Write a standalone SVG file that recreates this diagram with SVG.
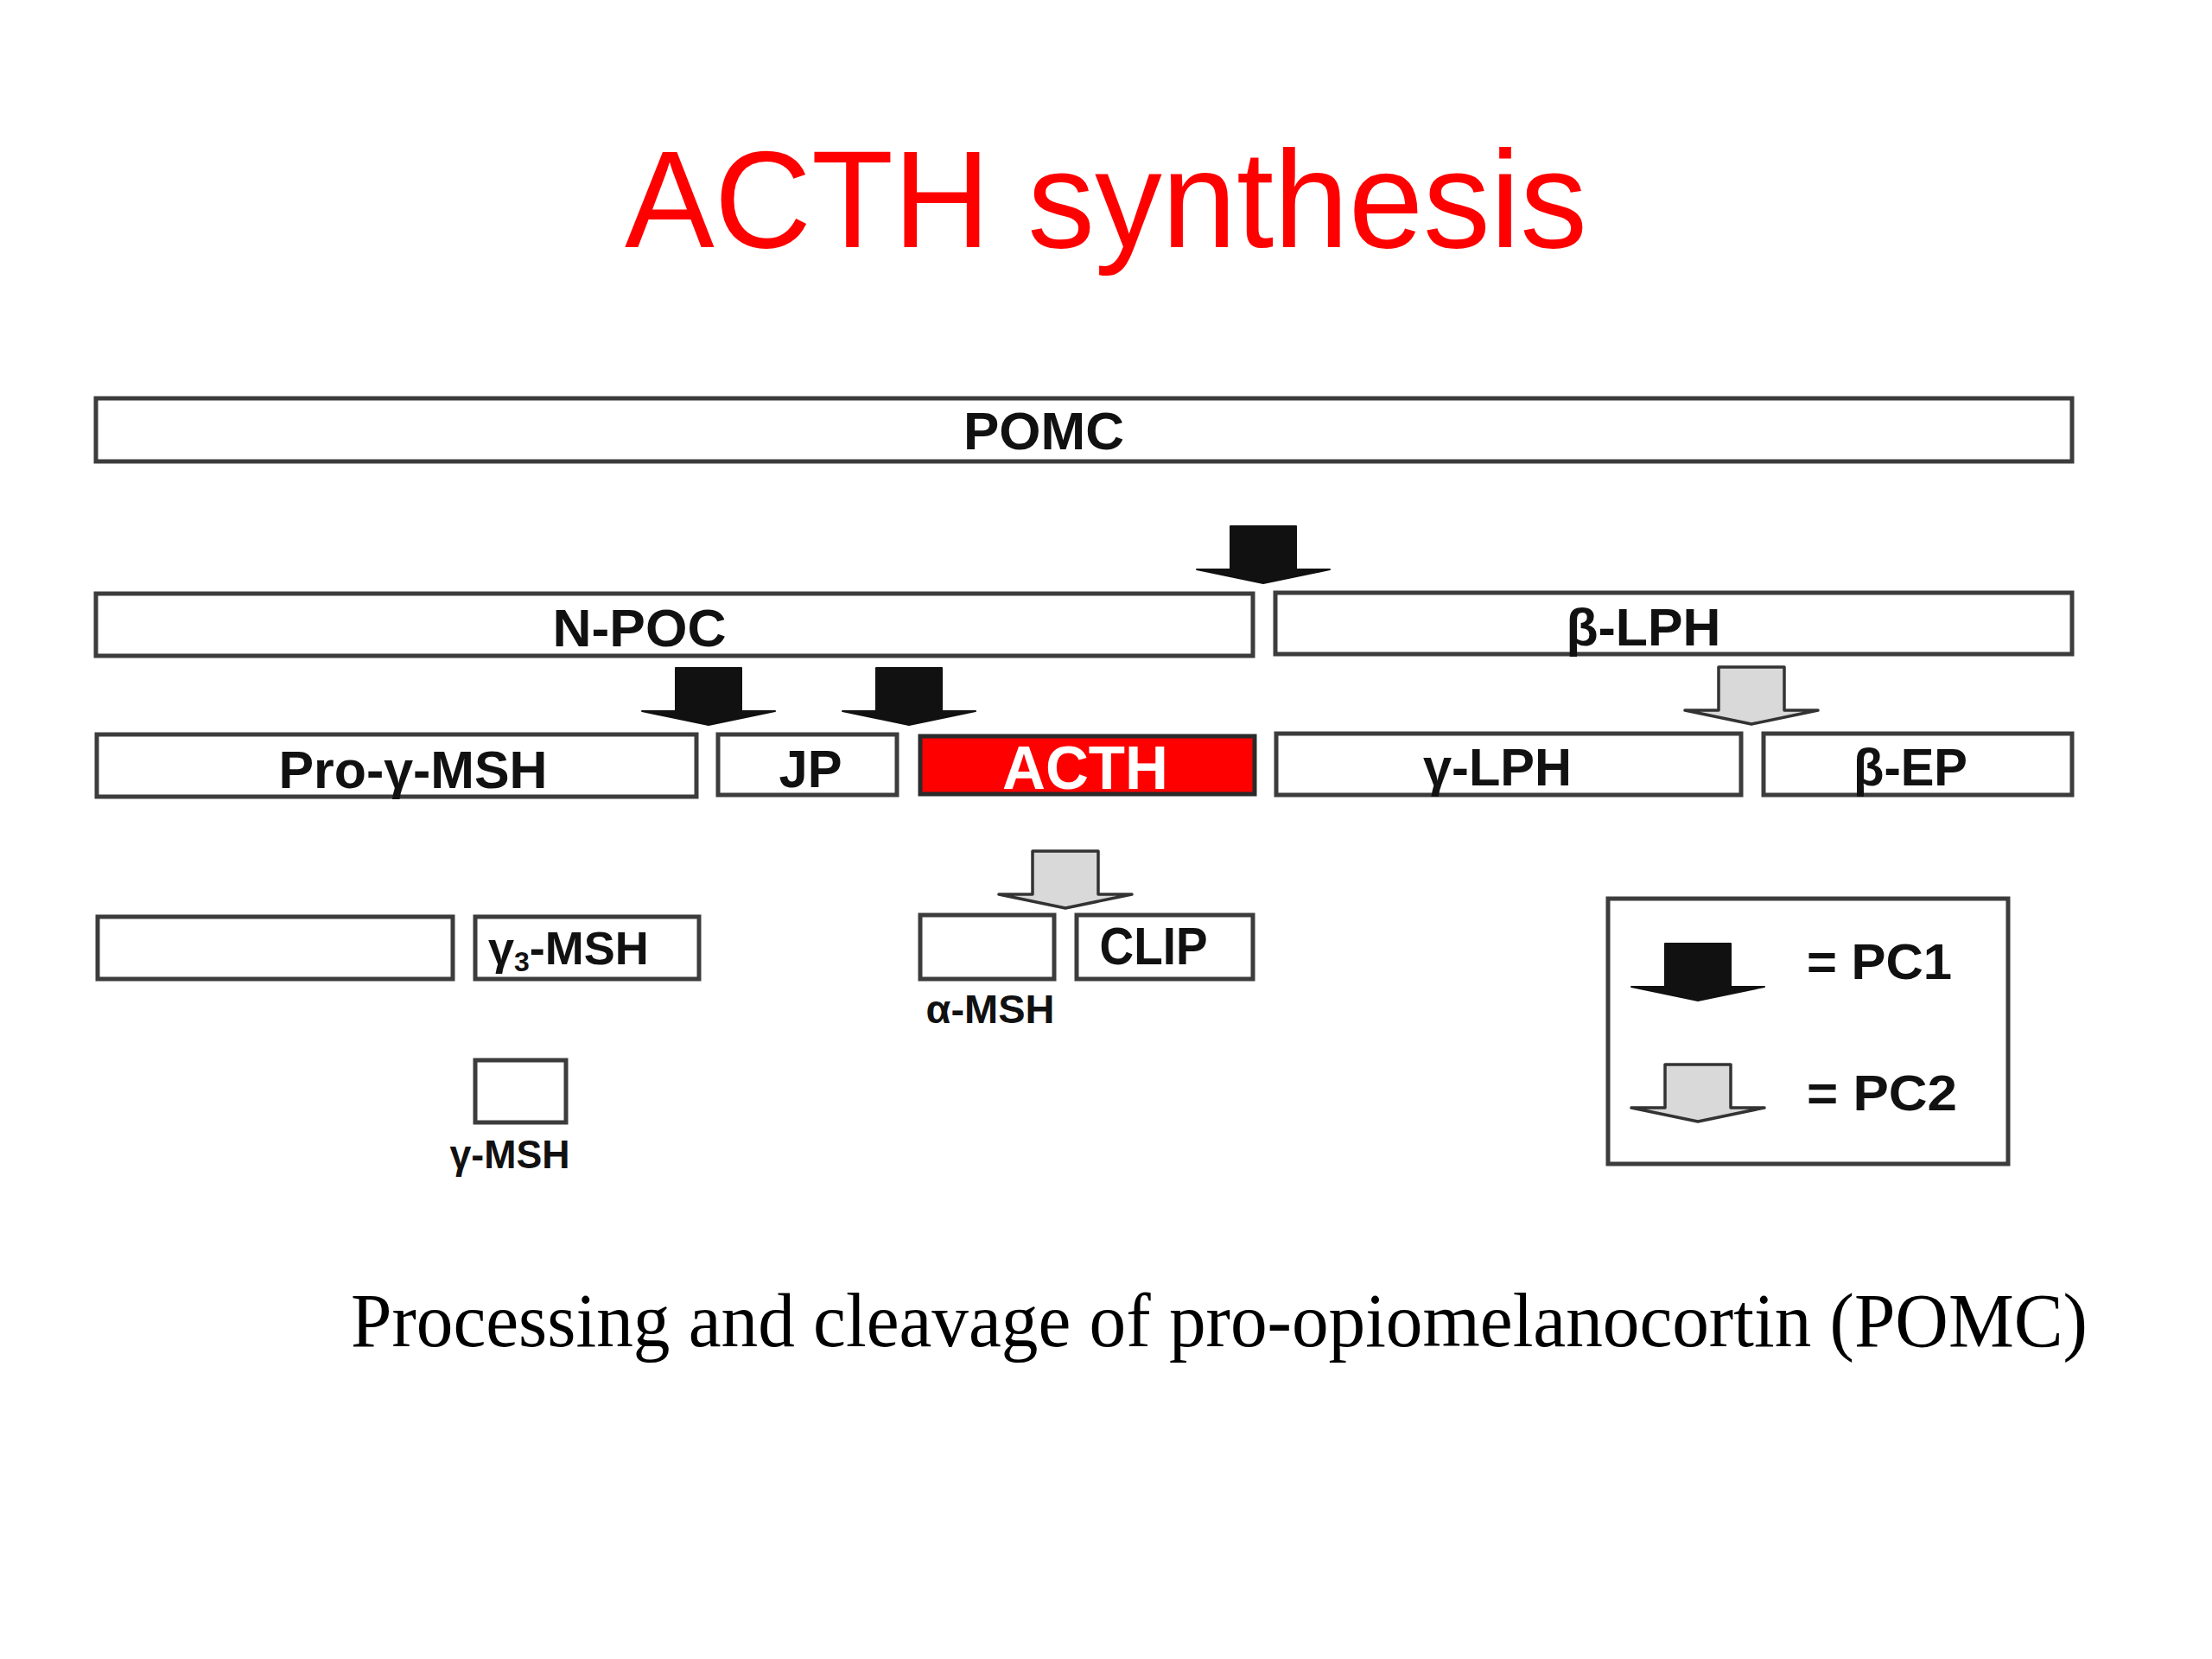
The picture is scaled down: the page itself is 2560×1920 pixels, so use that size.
<svg xmlns="http://www.w3.org/2000/svg" xmlns:xlink="http://www.w3.org/1999/xlink" width="2560" height="1920" viewBox="0 0 2560 1920">
<style>
.box{fill:#fff;stroke:#3c3c3c;stroke-width:5}
.red{fill:#ff0000;stroke:#2a2a2a;stroke-width:5}
.lbl{font-family:"Liberation Sans",Arial,Helvetica,sans-serif;font-weight:bold;font-size:62px;fill:#111;text-anchor:middle}
.sm{font-family:"Liberation Sans",Arial,Helvetica,sans-serif;font-weight:bold;font-size:46px;fill:#111;text-anchor:middle}
.pc1{fill:#111;stroke:#111;stroke-width:2;stroke-linejoin:round}
.pc2{fill:#d9d9d9;stroke:#333;stroke-width:3.5;stroke-linejoin:round}
</style>
<defs>
<path id="arr" d="M-38,0 H38 V50 L77,50 L0,66 L-77,50 L-38,50 Z"/>
</defs>
<rect width="2560" height="1920" fill="#fff"/>
<text x="1280" y="286" textLength="1114" lengthAdjust="spacingAndGlyphs" style="font-family:'Liberation Sans',Arial,Helvetica,sans-serif;font-size:160px;fill:#ff0000;text-anchor:middle">ACTH synthesis</text>

<g id="pomc"><rect class="box" x="111" y="461" width="2287" height="73"/><text class="lbl" x="1208" y="520" textLength="186" lengthAdjust="spacingAndGlyphs">POMC</text></g>
<g id="npoc"><rect class="box" x="111" y="687" width="1339" height="72"/><text class="lbl" x="740" y="748" textLength="201" lengthAdjust="spacingAndGlyphs">N-POC</text></g>
<g id="blph"><rect class="box" x="1476" y="686" width="922" height="71"/><text class="lbl" x="1902" y="747" textLength="179" lengthAdjust="spacingAndGlyphs">β-LPH</text></g>
<g id="progmsh"><rect class="box" x="112" y="850" width="694" height="72"/><text class="lbl" x="478" y="912" textLength="311" lengthAdjust="spacingAndGlyphs">Pro-γ-MSH</text></g>
<g id="jp"><rect class="box" x="831" y="850" width="207" height="70"/><text class="lbl" x="938" y="911" textLength="73" lengthAdjust="spacingAndGlyphs">JP</text></g>
<g id="acth"><rect class="red" x="1065" y="852" width="387" height="67"/><text class="lbl" x="1256" y="913" textLength="192" lengthAdjust="spacingAndGlyphs" style="font-size:70px;fill:#fff">ACTH</text></g>
<g id="glph"><rect class="box" x="1477" y="849" width="538" height="71"/><text class="lbl" x="1733" y="909" textLength="172" lengthAdjust="spacingAndGlyphs">γ-LPH</text></g>
<g id="bep"><rect class="box" x="2041" y="849" width="357" height="71"/><text class="lbl" x="2211" y="909" textLength="132" lengthAdjust="spacingAndGlyphs">β-EP</text></g>
<g id="empty"><rect class="box" x="113" y="1061" width="411" height="72"/></g>
<g id="g3msh"><rect class="box" x="550" y="1061" width="259" height="72"/><text class="lbl" x="565" y="1116" style="font-size:54px;text-anchor:start">γ<tspan dy="8" style="font-size:32px">3</tspan><tspan dy="-8">-MSH</tspan></text></g>
<g id="amsh"><rect class="box" x="1065" y="1059" width="155" height="74"/><text class="sm" x="1146" y="1184" textLength="149" lengthAdjust="spacingAndGlyphs">α-MSH</text></g>
<g id="clip"><rect class="box" x="1246" y="1059" width="204" height="74"/><text class="lbl" x="1335" y="1116" textLength="125" lengthAdjust="spacingAndGlyphs">CLIP</text></g>
<g id="gmsh"><rect class="box" x="550" y="1227" width="105" height="72"/><text class="sm" x="590" y="1352" textLength="139" lengthAdjust="spacingAndGlyphs">γ-MSH</text></g>

<g id="legend">
<rect class="box" x="1861" y="1040" width="463" height="307"/>
<use href="#arr" xlink:href="#arr" class="pc1" x="1965" y="1092"/>
<text class="lbl" x="2091" y="1133" textLength="168" lengthAdjust="spacingAndGlyphs" style="font-size:58px;text-anchor:start">= PC1</text>
<use href="#arr" xlink:href="#arr" class="pc2" x="1965" y="1232"/>
<text class="lbl" x="2091" y="1285" textLength="174" lengthAdjust="spacingAndGlyphs" style="font-size:58px;text-anchor:start">= PC2</text>
</g>

<g id="connectors">
<use href="#arr" xlink:href="#arr" class="pc1" x="1462" y="609"/>
<use href="#arr" xlink:href="#arr" class="pc1" x="820" y="773"/>
<use href="#arr" xlink:href="#arr" class="pc1" x="1052" y="773"/>
<use href="#arr" xlink:href="#arr" class="pc2" x="2027" y="772"/>
<use href="#arr" xlink:href="#arr" class="pc2" x="1233" y="985"/>
</g>

<text x="1411" y="1558" textLength="2010" lengthAdjust="spacingAndGlyphs" style="font-family:'Liberation Serif','Times New Roman',serif;font-size:88px;fill:#000;text-anchor:middle">Processing and cleavage of pro-opiomelanocortin (POMC)</text>
</svg>
